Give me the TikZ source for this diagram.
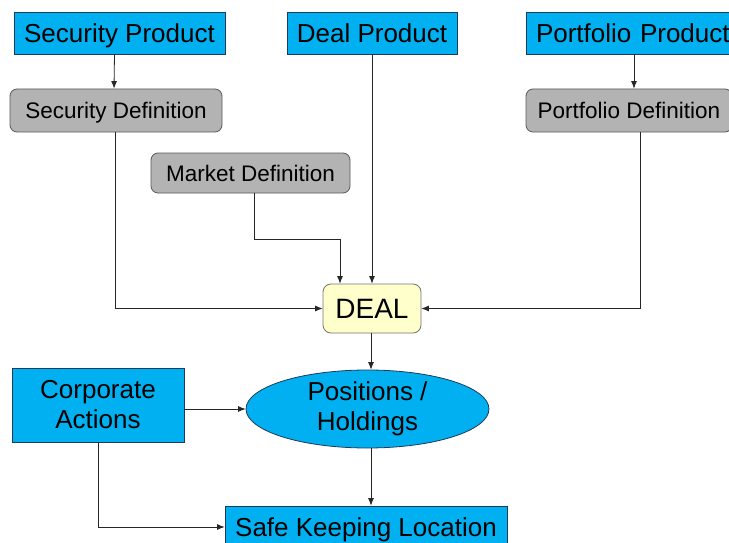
\documentclass[tikz,border=0pt]{standalone}
\usepackage{fontspec}
\setmainfont{Liberation Sans}
\usetikzlibrary{arrows.meta,shapes.geometric}
\definecolor{boxblue}{HTML}{00B0F0}
\definecolor{boxgray}{HTML}{B3B3B3}
\definecolor{dealyellow}{HTML}{FFFFCC}
\definecolor{bluedraw}{HTML}{1F3A5A}
\tikzset{
  bluebox/.style={draw=bluedraw, fill=boxblue, line width=0.8pt, inner sep=0pt,
    font=\fontsize{26}{30}\selectfont, align=center},
  oneline/.style={text height=#1, text depth=0pt},
  bluesingle/.style={bluebox, oneline=18.7pt},
  graybox/.style={draw=black!65, fill=boxgray, line width=0.8pt, rounded corners=7pt,
    inner sep=0pt, font=\fontsize{22.5}{26}\selectfont, oneline=16.2pt},
  dealbox/.style={draw=black!55, fill=dealyellow, line width=0.8pt, rounded corners=8pt,
    inner sep=0pt, font=\fontsize{28}{32}\selectfont, oneline=20.2pt},
  ellbox/.style={ellipse, draw=bluedraw, fill=boxblue, line width=0.8pt, inner sep=0pt,
    font=\fontsize{26}{30}\selectfont, align=center},
  arr/.style={draw=black!85, line width=0.8pt, -{Latex[length=7.5pt,width=6pt]}},
}
\begin{document}
\begin{tikzpicture}[x=1pt,y=-1pt]
\useasboundingbox (0,0) rectangle (729,543);
\node[bluesingle, minimum width=211pt, minimum height=42pt] (secprod) at (119.5,33) {Security Product};
\node[bluesingle, minimum width=170pt, minimum height=42pt] (dealprod) at (372,33) {Deal Product};
\node[bluesingle, minimum width=213pt, minimum height=42pt, text width=193pt, align=left] (portprod) at (632.5,33) {\mbox{Portfolio Product}};
\node[graybox, minimum width=212pt, minimum height=43pt] (secdef) at (116,110.5) {Security Definition};
\node[graybox, minimum width=206pt, minimum height=43pt] (portdef) at (629,110.5) {Portfolio Definition};
\node[graybox, minimum width=199pt, minimum height=40pt] (mkt) at (250.5,173) {Market Definition};
\node[dealbox, minimum width=98pt, minimum height=49pt] (deal) at (372,308.5) {DEAL};
\node[ellbox, minimum width=243pt, minimum height=78pt] (pos) at (367.5,409) {Positions /\\Holdings};
\node[bluebox, minimum width=172pt, minimum height=74pt] (corp) at (98,405) {Corporate\\Actions};
\node[bluesingle, minimum width=282pt, minimum height=42pt] (safe) at (366,527) {Safe Keeping Location};

\draw[arr] ([xshift=-5pt]secprod.south) -- ([xshift=-2pt]secdef.north);
\draw[arr] ([xshift=1.5pt]portprod.south) -- ([xshift=5pt]portdef.north);
\draw[arr] (dealprod.south) -- (deal.north);
\draw[arr] ([xshift=-1pt]secdef.south) |- (deal.west);
\draw[arr] ([xshift=11pt]portdef.south) |- (deal.east);
\draw[arr] ([xshift=3.5pt]mkt.south) -- ++(0,46) -| ([xshift=-32pt]deal.north);
\draw[arr] ([xshift=-1pt]deal.south) -- ([xshift=3.5pt]pos.north);
\draw[arr] (corp.east |- pos.west) -- (pos.west);
\draw[arr] ([xshift=3.5pt]pos.south) -- ([xshift=5pt]safe.north);
\draw[arr] (corp.south) |- (safe.west);
\end{tikzpicture}
\end{document}
